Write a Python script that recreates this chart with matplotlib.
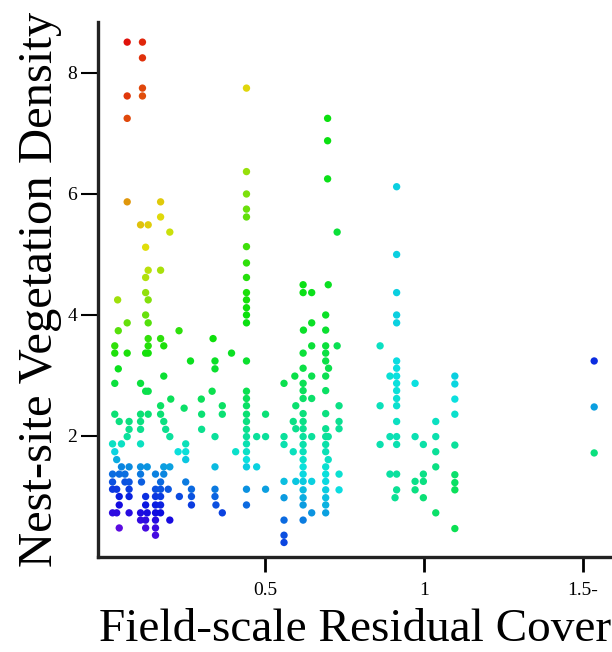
#!/usr/bin/env python3
import numpy as np
import matplotlib
matplotlib.use('Agg')
import matplotlib.pyplot as plt
from matplotlib.colors import hsv_to_rgb

# ---- data: (residual cover, vegetation density) ----
# left group (x < 0.52)
x_left = [0.067, 0.115, 0.115, 0.115, 0.067, 0.115, 0.067, 0.067, 0.172, 0.172,
          0.109, 0.133, 0.201, 0.125, 0.133, 0.172, 0.125, 0.125, 0.133, 0.037,
          0.125, 0.133, 0.067, 0.039, 0.133, 0.172, 0.230, 0.337, 0.028, 0.133,
          0.182, 0.028, 0.067, 0.125, 0.133, 0.395, 0.266, 0.343, 0.343, 0.039,
          0.182, 0.028, 0.109, 0.125, 0.133, 0.334, 0.204, 0.172, 0.246, 0.300,
          0.366]
y_left = [8.51, 8.51, 8.25, 7.75, 7.62, 7.62, 7.25, 5.87, 5.87, 5.62,
          5.49, 5.49, 5.37, 5.12, 4.74, 4.74, 4.62, 4.37, 4.25, 4.25,
          4.00, 3.87, 3.87, 3.74, 3.61, 3.61, 3.74, 3.61, 3.49, 3.49,
          3.49, 3.37, 3.37, 3.37, 3.37, 3.37, 3.24, 3.24, 3.11, 3.11,
          2.99, 2.87, 2.87, 2.74, 2.74, 2.74, 2.61, 2.50, 2.46, 2.61,
          2.50]

# the column at x = 0.442
y_col44 = [7.75, 6.37, 6.00, 5.75, 5.62, 5.13, 4.86, 4.62, 4.37, 4.25, 4.12,
           4.00, 3.87, 3.24, 2.74, 2.62, 2.50, 2.36, 2.24, 2.11, 1.99, 1.87,
           1.74, 1.61, 1.49, 1.12, 0.86]

# dense low rows on the left (y -> list of x)
rows_low = {
    2.36: [0.028, 0.109, 0.133, 0.172, 0.301, 0.366, 0.502],
    2.24: [0.042, 0.073, 0.109, 0.182],
    2.11: [0.073, 0.109, 0.188, 0.301],
    1.99: [0.067, 0.201, 0.343, 0.474, 0.502],
    1.87: [0.021, 0.049, 0.109, 0.251],
    1.74: [0.028, 0.227, 0.251, 0.408],
    1.61: [0.034, 0.251],
    1.49: [0.049, 0.073, 0.109, 0.130, 0.182, 0.201, 0.343, 0.474],
    1.37: [0.021, 0.042, 0.060, 0.109, 0.156, 0.182],
    1.24: [0.021, 0.060, 0.073, 0.112, 0.172, 0.251],
    1.12: [0.021, 0.034, 0.073, 0.156, 0.172, 0.196, 0.269, 0.343, 0.502],
    1.00: [0.042, 0.073, 0.125, 0.156, 0.172, 0.231, 0.269, 0.343],
    0.86: [0.042, 0.125, 0.156, 0.172, 0.269, 0.346],
    0.73: [0.021, 0.034, 0.073, 0.109, 0.130, 0.156, 0.172, 0.366],
    0.61: [0.109, 0.125, 0.156, 0.201],
    0.48: [0.042, 0.125, 0.156],
    0.36: [0.156],
}

# middle / right group (x >= 0.55)
x_mid = [0.697, 0.697, 0.697, 0.914, 0.727, 0.914,
         0.620, 0.620, 0.647, 0.699, 0.914,
         0.691, 0.647, 0.621, 0.691, 0.914, 0.914,
         0.647, 0.691, 0.727, 0.862,
         0.620, 0.691, 0.691, 0.914, 0.914, 0.620, 0.700,
         0.594, 0.647, 0.691, 0.893, 0.914,
         0.560, 0.620, 0.914, 0.972,
         0.620, 0.691, 0.914,
         0.620, 0.647, 0.914,
         0.597, 0.733, 0.862, 0.914,
         0.620, 0.691]
y_mid = [7.25, 6.88, 6.25, 6.12, 5.37, 5.00,
         4.50, 4.37, 4.37, 4.50, 4.37,
         4.00, 3.87, 3.75, 3.75, 4.00, 3.87,
         3.49, 3.49, 3.49, 3.49,
         3.37, 3.37, 3.24, 3.24, 3.12, 3.12, 3.12,
         2.99, 2.99, 2.99, 2.99, 2.99,
         2.87, 2.87, 2.87, 2.87,
         2.75, 2.75, 2.75,
         2.62, 2.62, 2.62,
         2.50, 2.50, 2.50, 2.50,
         2.37, 2.37]

rows_mid = {
    2.24: [0.589, 0.620, 0.733, 0.914, 1.037],
    2.12: [0.597, 0.620, 0.691, 0.733],
    1.99: [0.560, 0.620, 0.647, 0.691, 0.699, 0.893, 0.914, 0.972, 1.037],
    1.86: [0.560, 0.620, 0.691, 0.862, 0.914, 0.998],
    1.74: [0.589, 0.620, 0.691, 1.037],
    1.61: [0.620, 0.699],
    1.49: [0.620, 0.691, 1.037],
    1.37: [0.620, 0.691, 0.733, 0.893, 0.914, 0.998],
    1.25: [0.560, 0.597, 0.620, 0.647, 0.691, 0.972, 0.998],
    1.11: [0.620, 0.691, 0.733, 0.914, 0.972],
    0.98: [0.560, 0.620, 0.691, 0.909, 0.998],
    0.86: [0.620, 0.691],
    0.73: [0.647, 0.691, 1.037],
    0.61: [0.560, 0.620],
    0.36: [0.560],
    0.24: [0.560],
}

# column at x = 1.097 and the three points at x = 1.535
y_col110 = [2.99, 2.86, 2.61, 2.36, 1.85, 1.36, 1.23, 1.11, 0.47]
y_col153 = [3.24, 2.48, 1.72]

# hue (degrees) of the markers, read at a few places of the plot
hue_y = [0, 0.5, 1, 1.5, 2, 2.5, 3, 4, 5, 6, 7, 8.5]
hue_x = [0.05, 0.44, 0.70, 0.91, 1.10, 1.53]
hue_tab = np.array([
    [275, 262, 235, 205, 160, 145, 130, 88, 50, 35, 18, 0],
    [240, 228, 208, 185, 160, 145, 133, 120, 108, 88, 68, 45],
    [218, 205, 188, 175, 160, 150, 140, 128, 125, 125, 122, 120],
    [165, 160, 158, 162, 168, 175, 180, 185, 185, 185, 185, 185],
    [140, 140, 140, 150, 165, 178, 185, 185, 185, 185, 185, 185],
    [140, 142, 145, 148, 158, 200, 228, 240, 240, 240, 240, 240],
])

# ---- assemble ----
xs, ys = list(x_left), list(y_left)
xs += [0.442] * len(y_col44)
ys += y_col44
for yv, xl in rows_low.items():
    xs += xl
    ys += [yv] * len(xl)
xs += x_mid
ys += y_mid
for yv, xl in rows_mid.items():
    xs += xl
    ys += [yv] * len(xl)
xs += [1.097] * len(y_col110)
ys += y_col110
xs += [1.535] * len(y_col153)
ys += y_col153
xs = np.array(xs)
ys = np.array(ys)


def hue_at(x, y):
    col = np.array([np.interp(y, hue_y, row) for row in hue_tab])
    return np.interp(x, hue_x, col)


hues = np.array([hue_at(a, b) for a, b in zip(xs, ys)]) / 360.0
hsv = np.stack([hues, np.full_like(hues, 0.95), np.full_like(hues, 0.88)], axis=1)
colors = hsv_to_rgb(hsv)

# ---- figure ----
plt.rcParams['font.family'] = ['Liberation Serif', 'DejaVu Serif']
fig = plt.figure(figsize=(6.12, 6.52), dpi=100)
ax = fig.add_axes([0.160, 0.1457, 0.840, 0.8206])
ax.scatter(xs, ys, s=28, c=colors, edgecolors='none')

ax.set_xlim(-0.025, 1.591)
ax.set_ylim(0, 8.843)
ax.set_xticks([0.5, 1.0, 1.5])
ax.set_xticklabels(['0.5', '1', '1.5-'])
ax.set_yticks([2, 4, 6, 8])
ax.set_yticklabels(['2', '4', '6', '8'])

for side in ['top', 'right']:
    ax.spines[side].set_visible(False)
for side in ['left', 'bottom']:
    ax.spines[side].set_linewidth(2.4)
    ax.spines[side].set_color('#222222')
ax.tick_params(axis='x', direction='out', length=11, width=2, labelsize=14, pad=7)
ax.tick_params(axis='y', direction='out', length=12, width=1.5, labelsize=14, pad=3)

ax.set_xlabel('Field-scale Residual Cover', fontsize=34, labelpad=7)
ax.set_ylabel('Nest-site Vegetation Density', fontsize=35, labelpad=4)

fig.savefig('out.png', dpi=100)
